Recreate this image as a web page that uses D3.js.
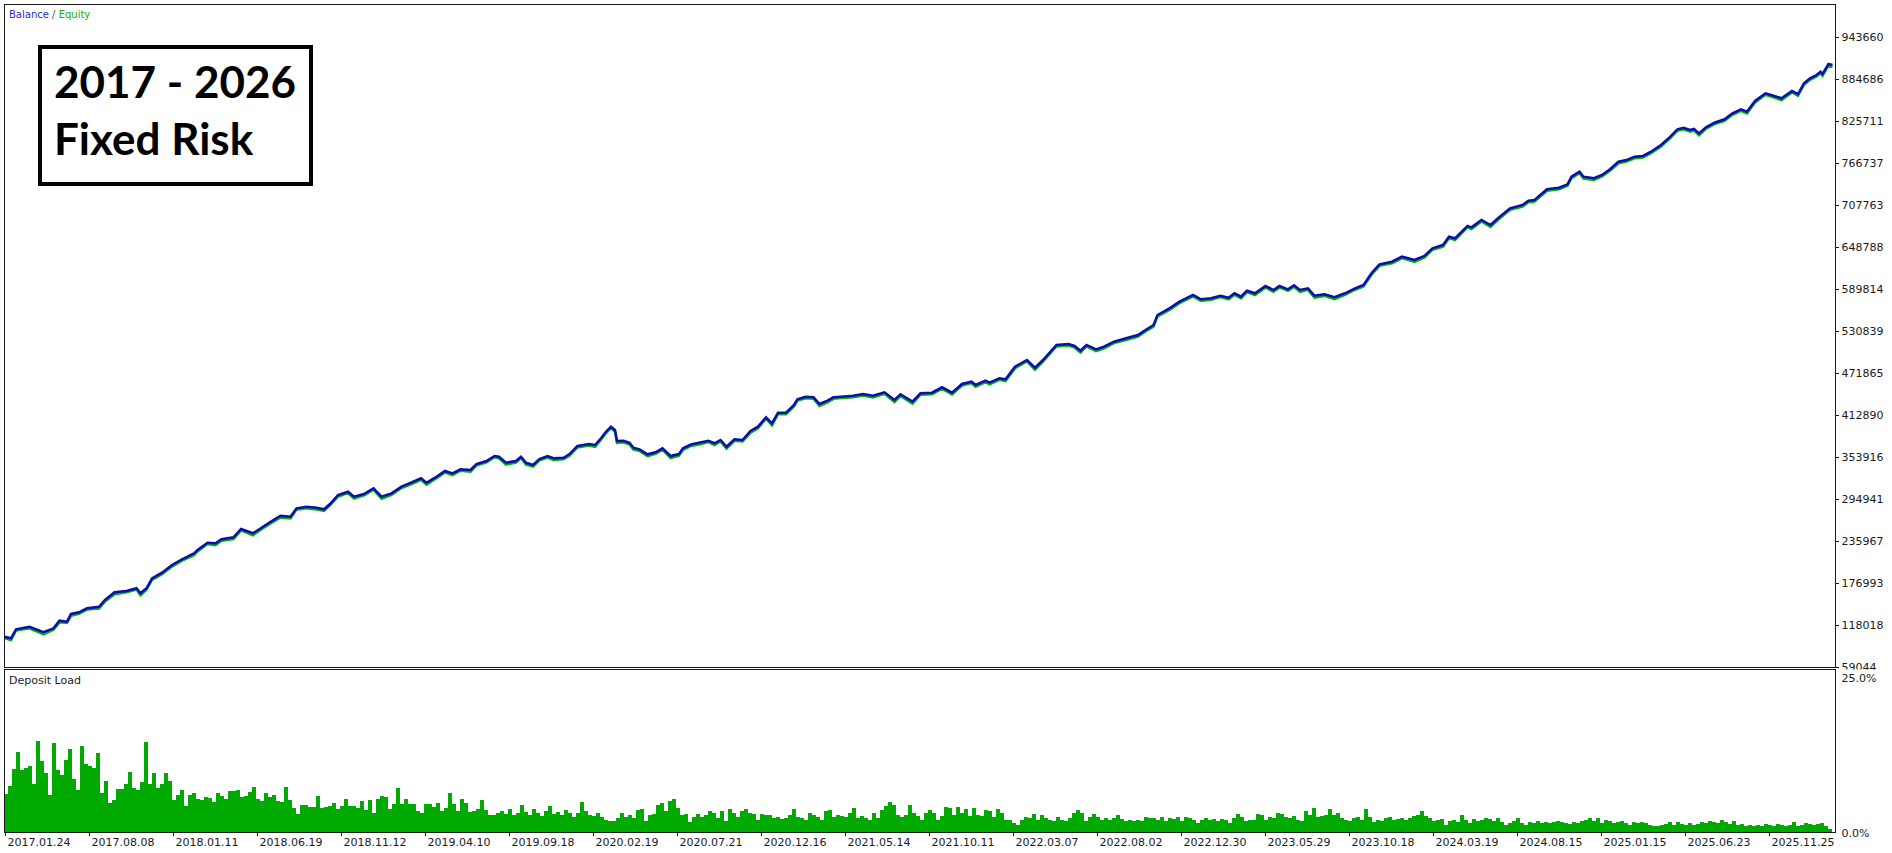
<!DOCTYPE html>
<html>
<head>
<meta charset="utf-8">
<script src="https://cdn.jsdelivr.net/npm/d3@7"></script>
<style>
body { margin: 0; background: #fff; }
</style>
</head>
<body>
<div id="chart"></div>
<script>
'use strict';

// [deal number, balance, floating result (equity - balance)]
var balance = [
    [1,101600,-1800],[14,99300,-2600],[24,112000,-1900],[51,115600,-2200],[79,107800,-2800],
    [99,113400,-2000],[111,124100,-2400],[126,122700,-1800],[134,133500,-2600],[150,135900,-2100],
    [166,141500,-1900],[190,143700,-2500],[202,153100,-2200],[221,163900,-2700],[245,165800,-2000],
    [265,169600,-1800],[273,162500,-2900],[285,169600,-2100],[296,183600,-2400],[316,191500,-2000],
    [336,202300,-2300],[356,210300,-1900],[380,218700,-2600],[387,223300,-2200],[407,233600,-2000],
    [423,232700,-2500],[435,238400,-2100],[459,241200,-2400],[474,252800,-1900],[498,246800,-2800],
    [518,256000,-2200],[534,263100,-2000],[553,271500,-2400],[573,270100,-2300],[585,281900,-1900],
    [605,284100,-2100],[625,282700,-2600],[640,280500,-2200],[652,287900,-2000],[668,300600,-2300],
    [688,305200,-1900],[700,298200,-2700],[720,302000,-2100],[739,310000,-2000],[755,298200,-2800],
    [775,302900,-2200],[795,312200,-1900],[814,317800,-2300],[834,324000,-2100],[845,317800,-2600],
    [862,324900,-2000],[882,334300,-2200],[897,331000,-2400],[913,336600,-1900],[933,335700,-2300],
    [945,344100,-2100],[965,348300,-2000],[981,355300,-1800],[990,354300,-2200],[1004,345900,-2600],
    [1024,348300,-2100],[1034,354300,-1900],[1044,345900,-2700],[1058,342700,-2300],[1071,351100,-2000],
    [1087,355300,-2200],[1099,352100,-2400],[1119,352900,-2100],[1131,358100,-2300],[1147,369400,-2000],
    [1170,372200,-2200],[1182,370800,-2500],[1194,380200,-2000],[1204,389400,-1900],[1214,396500,-2100],
    [1222,391800,-2400],[1226,376400,-2600],[1239,376800,-2200],[1251,374000,-2500],[1259,367000,-2800],
    [1271,364700,-2400],[1287,357700,-2700],[1303,360500,-2200],[1317,366100,-2000],[1333,355300,-2900],
    [1350,358100,-2300],[1358,366100,-2100],[1374,371700,-2200],[1390,374000,-2400],[1409,376800,-2000],
    [1421,373200,-2600],[1433,377800,-2100],[1445,368400,-2800],[1461,378800,-2200],[1477,377800,-2000],
    [1493,390400,-2300],[1508,396500,-2100],[1524,409700,-1900],[1536,401200,-2700],[1548,416100,-2000],
    [1564,416100,-2200],[1580,426900,-2100],[1587,434900,-1900],[1603,438600,-2200],[1619,437700,-2000],
    [1631,428300,-2800],[1647,433000,-2300],[1659,437700,-2100],[1674,438600,-2000],[1698,440000,-2300],
    [1718,442400,-2100],[1738,440000,-2400],[1761,444800,-2000],[1781,434000,-2900],[1793,442000,-2200],
    [1817,431600,-2700],[1833,443400,-2100],[1856,444200,-2300],[1876,451800,-2000],[1896,444200,-2500],
    [1916,456400,-2100],[1935,459600,-2000],[1943,455000,-2400],[1963,461100,-2100],[1971,458200,-2300],
    [1991,464400,-2000],[2003,463000,-2500],[2022,480700,-2100],[2046,490100,-2000],[2062,479300,-2800],
    [2078,490100,-2200],[2090,499500,-2000],[2105,511200,-2100],[2129,512600,-2300],[2141,509800,-2200],
    [2153,503200,-2700],[2165,511200,-2100],[2184,505100,-2500],[2200,508800,-2200],[2220,515800,-2000],
    [2244,520600,-2300],[2268,525200,-2100],[2283,532200,-2000],[2299,539300,-2200],[2307,553300,-2000],
    [2331,562700,-2400],[2351,572000,-2100],[2378,581400,-2000],[2394,575400,-2500],[2414,576800,-2200],
    [2433,580400,-2000],[2449,577600,-2400],[2461,583800,-2100],[2474,579000,-2300],[2486,587400,-2000],
    [2502,583800,-2400],[2523,594000,-2100],[2539,588400,-2500],[2551,594000,-2000],[2568,589400,-2300],
    [2580,595000,-2100],[2592,588400,-2600],[2608,590800,-2200],[2621,580400,-2700],[2641,582400,-2300],
    [2661,578200,-2500],[2682,583800,-2100],[2702,590800,-2000],[2719,595400,-2200],[2735,611900,-2100],
    [2751,624500,-2000],[2776,628100,-2300],[2796,635200,-2100],[2821,630500,-2500],[2841,636200,-2200],
    [2857,647000,-2000],[2878,651600,-2300],[2890,663300,-2100],[2902,661000,-2400],[2927,678300,-2000],
    [2935,676400,-2300],[2955,686700,-2100],[2973,679700,-2600],[2988,689100,-2200],[3012,703100,-2000],
    [3037,707800,-2300],[3049,713800,-2100],[3061,714800,-2200],[3086,729800,-2000],[3110,732100,-2300],
    [3127,736800,-2100],[3135,747500,-2000],[3151,754500,-2200],[3159,747500,-2600],[3180,745300,-2300],
    [3196,749900,-2100],[3212,757900,-2000],[3229,768600,-2200],[3245,770900,-2100],[3261,775600,-2300],
    [3278,776600,-2100],[3294,782600,-2000],[3314,792000,-2200],[3331,802800,-2100],[3347,814100,-2000],
    [3359,816300,-2300],[3372,813100,-2500],[3380,814500,-2200],[3390,808400,-2800],[3404,816900,-2100],
    [3421,823300,-2000],[3441,828100,-2300],[3457,836500,-2100],[3474,842100,-2000],[3486,838800,-2500],
    [3502,853800,-2100],[3523,864600,-2000],[3539,861200,-2400],[3555,857600,-2600],[3576,867800,-2100],
    [3588,863600,-2500],[3600,878600,-2000],[3612,885700,-2200],[3625,890300,-2100],[3633,894900,-2000],
    [3637,891700,-2400],[3649,905700,-2100],[3657,904300,-2600]
];

// deposit load in %, one value per 8 deals
var depositLoad = [
    5.95,7.1,9.8,12.4,9.7,10.0,10.2,7.5,14.2,11.0,9.2,5.8,13.8,9.7,8.9,11.2,12.9,8.3,6.5,13.4,
    10.5,10.2,9.9,12.2,6.0,7.9,4.5,5.0,6.7,6.6,7.4,9.3,6.8,6.5,7.8,14.0,7.5,9.2,6.8,7.5,
    9.2,7.9,5.0,5.7,6.5,4.0,5.7,6.0,5.2,5.0,5.5,5.3,4.6,6.0,5.6,5.2,6.3,6.4,6.5,5.4,
    5.6,6.2,7.0,5.2,4.8,6.0,5.4,5.8,4.8,4.6,7.0,5.0,3.8,2.8,4.2,4.2,3.9,3.9,5.6,3.7,
    3.9,4.0,4.5,3.6,4.1,5.2,4.1,4.0,3.8,4.8,3.4,5.0,3.0,5.2,5.6,5.5,3.6,4.4,6.8,4.4,
    5.2,4.4,4.3,3.2,3.0,4.4,4.4,3.9,4.5,3.2,3.7,6.0,4.3,3.3,5.1,4.5,3.1,3.2,3.6,4.9,
    3.4,2.6,2.7,3.0,
    3.2,2.8,3.5,2.6,3.0,4.2,3.1,2.7,3.6,2.9,2.5,3.3,4.0,2.8,3.1,2.6,3.4,2.9,2.4,3.0,
    4.6,3.2,2.7,2.5,3.0,
    2.4,1.9,1.7,1.7,2.2,3.0,2.4,2.7,2.2,3.4,3.5,1.7,2.7,2.8,4.2,4.5,3.2,4.8,5.1,3.7,
    2.7,2.8,1.5,2.4,2.8,2.4,2.7,3.2,3.0,2.2,3.2,1.7,3.6,3.0,2.4,3.2,3.6,3.0,2.8,1.9,
    2.8,2.7,2.7,2.2,2.4,2.0,2.2,2.7,3.6,2.4,2.2,1.9,3.0,2.7,2.4,1.9,3.2,3.4,2.4,2.7,
    2.5,2.4,3.0,3.7,2.2,2.5,2.2,1.9,3.0,2.2,3.4,4.0,4.6,4.2,2.7,2.4,2.7,4.2,3.0,2.5,
    1.9,3.0,3.4,3.0,1.9,2.5,3.9,3.7,2.7,3.9,3.0,3.5,2.5,3.7,2.7,2.5,3.4,3.2,2.3,3.5,
    3.0,1.9,1.8,1.4,1.1,1.9,2.4,2.2,2.8,1.9,2.7,2.2,1.9,1.7,2.4,1.9,1.7,2.2,3.0,3.4,
    3.0,1.7,2.3,2.8,2.4,1.9,2.2,1.9,2.2,2.7,2.0,1.7,1.9,1.7,1.9,1.7,2.4,2.2,2.2,1.9,
    2.3,1.7,2.2,2.0,2.4,1.7,2.4,2.2,1.9,1.4,
    1.9,2.2,1.9,2.0,1.7,2.0,1.9,1.4,2.2,2.8,2.4,1.7,1.9,1.9,2.8,2.7,1.9,2.4,2.2,3.0,
    2.8,2.4,2.2,2.5,1.9,1.7,3.2,2.7,3.7,2.4,2.5,2.7,3.5,2.7,3.0,2.2,1.9,1.7,2.2,2.4,
    1.9,3.5,2.4,1.5,1.9,1.7,2.2,2.4,1.9,2.0,2.2,1.9,2.2,2.5,2.7,3.2,2.5,2.2,1.7,1.9,
    2.0,1.1,1.7,1.9,1.5,2.7,1.9,1.4,2.0,1.7,1.9,2.2,2.0,1.7,2.2,1.5,1.1,1.4,1.7,2.2,
    1.4,1.1,1.5,1.4,1.7,1.4,1.5,1.4,1.5,1.7,1.5,1.4,1.3,1.5,1.4,1.7,1.9,2.2,1.7,2.2,
    1.4,1.9,1.7,1.4,1.5,1.7,1.4,1.1,1.5,1.4,1.5,1.4,1.1,1.0,0.9,1.1,1.3,1.5,1.1,1.5,
    1.3,1.1,1.4,1.1,1.3,1.5,1.4,1.7,1.5,1.4,1.9,1.5,1.3,1.7,1.1,1.3,1.0,1.1,0.9,1.1,
    1.0,1.3,1.1,1.0,1.3,1.1,0.9,1.1,1.5,1.0,1.1,1.4,1.3,1.1,1.3,1.4,0.9,0.4
];
var dealsPerBar = 8;

var tickDeals = [2,170,338,506,674,842,1010,1178,1346,1514,1682,1850,2018,2186,2354,2522,2690,2858,3026,3194,3362,3530];
var tickLabels = ['2017.01.24','2017.08.08','2018.01.11','2018.06.19','2018.11.12','2019.04.10','2019.09.18',
    '2020.02.19','2020.07.21','2020.12.16','2021.05.14','2021.10.11','2022.03.07','2022.08.02','2022.12.30',
    '2023.05.29','2023.10.18','2024.03.19','2024.08.15','2025.01.15','2025.06.23','2025.11.25'];
var balanceTicks = [59044,118018,176993,235967,294941,353916,412890,471865,530839,589814,648788,707763,766737,825711,884686,943660];
var loadTicks = [0, 25];

var W = 1892, H = 853;
var left = 4, right = 1835;
var mainTop = 4, mainBottom = 667;
var loadTop = 669, loadBottom = 832;
var uiFont = '"DejaVu Sans", sans-serif';

var svg = d3.select('#chart').append('svg')
    .attr('width', W)
    .attr('height', H);

var x = d3.scaleLinear().domain([0, 3660]).range([left, right - 1]);
var y = d3.scaleLinear().domain([59044, 943660]).range([mainBottom, 37]);
var yLoad = d3.scaleLinear().domain([0, 25]).range([loadBottom, loadTop + 2]);

// deposit load bars
svg.append('g')
    .attr('shape-rendering', 'crispEdges')
    .selectAll('rect')
    .data(depositLoad)
    .enter()
    .append('rect')
    .attr('x', function(d, i) { return x(i * dealsPerBar); })
    .attr('width', x(dealsPerBar) - x(0))
    .attr('y', function(d) { return yLoad(d); })
    .attr('height', function(d) { return loadBottom - yLoad(d); })
    .attr('fill', '#00aa00');

// equity under balance
var equityLine = d3.line()
    .x(function(d) { return x(d[0]); })
    .y(function(d) { return y(d[1] + d[2]); });
var balanceLine = d3.line()
    .x(function(d) { return x(d[0]); })
    .y(function(d) { return y(d[1]); });

svg.append('path')
    .datum(balance)
    .attr('d', equityLine)
    .attr('fill', 'none')
    .attr('stroke', '#00b400')
    .attr('stroke-width', 2.5);
svg.append('path')
    .datum(balance)
    .attr('d', balanceLine)
    .attr('fill', 'none')
    .attr('stroke', '#0c0cb4')
    .attr('stroke-width', 2.5);

// panel frames
var frames = svg.append('g')
    .attr('fill', 'none')
    .attr('stroke', '#1a1a1a')
    .attr('stroke-width', 1)
    .attr('shape-rendering', 'crispEdges');
frames.append('rect')
    .attr('x', left + 0.5).attr('y', mainTop + 0.5)
    .attr('width', right - left).attr('height', mainBottom - mainTop);
frames.append('rect')
    .attr('x', left + 0.5).attr('y', loadTop + 0.5)
    .attr('width', right - left).attr('height', loadBottom - loadTop);

// right axes; the lowest balance label is cut by the lower panel
svg.append('clipPath').attr('id', 'mainClip')
    .append('rect').attr('x', 0).attr('y', 0).attr('width', W - right).attr('height', loadTop + 0.5);

var yAxis = d3.axisRight(y)
    .tickValues(balanceTicks)
    .tickSize(3)
    .tickFormat(d3.format('d'));
var yAxisEle = svg.append('g')
    .attr('clip-path', 'url(#mainClip)')
    .attr('transform', 'translate(' + (right + 0.5) + ',0)')
    .call(yAxis);

var loadAxis = d3.axisRight(yLoad)
    .tickValues(loadTicks)
    .tickSize(0)
    .tickPadding(6)
    .tickFormat(function(d) { return d.toFixed(1) + '%'; });
var loadAxisEle = svg.append('g')
    .attr('transform', 'translate(' + (right + 0.5) + ',0)')
    .call(loadAxis);
loadAxisEle.selectAll('text')
    .attr('dy', function(d) { return d === 25 ? '0.95em' : '0.4em'; });

var xAxis = d3.axisBottom(x)
    .tickValues(tickDeals)
    .tickSize(3)
    .tickFormat(function(d, i) { return tickLabels[i]; });
var xAxisEle = svg.append('g')
    .attr('transform', 'translate(0,' + (loadBottom + 0.5) + ')')
    .call(xAxis);
xAxisEle.selectAll('text')
    .attr('text-anchor', 'start')
    .attr('x', 2);

[yAxisEle, loadAxisEle, xAxisEle].forEach(function(g) {
    g.select('.domain').remove();
    g.attr('font-family', uiFont).attr('font-size', 11);
    g.selectAll('text').attr('fill', '#1a1a1a');
    g.selectAll('line').attr('stroke', '#1a1a1a').attr('shape-rendering', 'crispEdges');
});

// legends
var legend = svg.append('text')
    .attr('x', 9)
    .attr('y', 18)
    .attr('font-family', uiFont)
    .attr('font-size', 10);
legend.append('tspan').attr('fill', '#2a2ac8').text('Balance');
legend.append('tspan').attr('fill', '#7a4a2a').text(' / ');
legend.append('tspan').attr('fill', '#10b010').text('Equity');

svg.append('text')
    .attr('x', 9)
    .attr('y', 684)
    .attr('font-family', uiFont)
    .attr('font-size', 11)
    .attr('fill', '#1a1a1a')
    .text('Deposit Load');

// title box
svg.append('rect')
    .attr('x', 40).attr('y', 47)
    .attr('width', 271).attr('height', 137)
    .attr('fill', '#fff')
    .attr('stroke', '#000')
    .attr('stroke-width', 4);
var title = svg.append('g')
    .attr('font-family', 'Lato, "Open Sans", sans-serif')
    .attr('font-weight', 'bold')
    .attr('font-size', 44)
    .attr('fill', '#000');
title.append('text').attr('x', 54).attr('y', 98).text('2017 - 2026');
title.append('text').attr('x', 54).attr('y', 155).text('Fixed Risk');
</script>
</body>
</html>
